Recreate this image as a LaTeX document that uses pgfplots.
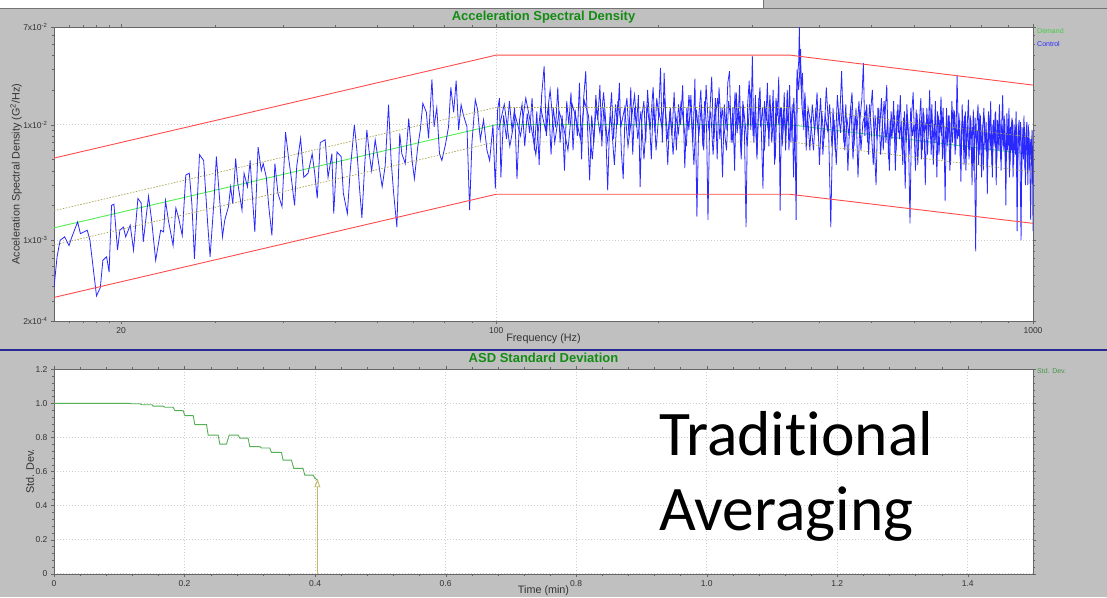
\documentclass[border=0pt]{standalone}
\usepackage{fontspec}
\setmainfont{Liberation Sans}
\newfontfamily\calib[Ligatures=NoCommon]{Carlito}
\usepackage{pgfplots}
\pgfplotsset{compat=1.18}
\usetikzlibrary{arrows.meta}
\definecolor{bg}{RGB}{192,192,192}
\definecolor{redlim}{RGB}{255,75,75}
\definecolor{ctrl}{RGB}{40,40,255}
\definecolor{dem}{RGB}{80,240,80}
\definecolor{alarm}{RGB}{170,165,80}
\definecolor{ttl}{RGB}{20,140,20}
\definecolor{sdgreen}{RGB}{85,175,85}
\definecolor{arrowc}{RGB}{195,185,100}
\definecolor{sep}{RGB}{40,40,150}
\definecolor{gridc}{RGB}{205,205,205}
\begin{document}
\begin{tikzpicture}
\path[use as bounding box] (0,0) rectangle (1107pt,-597pt);
\fill[bg] (0,0) rectangle (1107pt,-597pt);
\fill[white] (0,0) rectangle (763pt,-7.5pt);
\draw[black!55, line width=1pt] (0,-8pt) -- (1107pt,-8pt);
\draw[black!55, line width=1pt] (763pt,0) -- (763pt,-8pt);
\draw[sep, line width=1.8pt] (0,-350pt) -- (1107pt,-350pt);

\begin{axis}[
 name=top,
 at={(54pt,-321pt)}, anchor=south west,
 width=979pt, height=294pt, scale only axis,
 xmode=log, ymode=log,
 xmin=15, xmax=1000, ymin=2e-4, ymax=7e-2,
 axis background/.style={fill=white},
 axis line style={black!60},
 xtick={100,1000}, xticklabels={100,1000},
 extra x ticks={20}, extra x tick labels={20}, extra x tick style={grid=none},
 minor xtick={16,17,18,19,30,40,50,60,70,80,90,200,300,400,500,600,700,800,900},
 ytick={1e-3,1e-2}, yticklabels={1x10\textsuperscript{-3},1x10\textsuperscript{-2}},
 extra y ticks={2e-4,7e-2}, extra y tick labels={2x10\textsuperscript{-4},7x10\textsuperscript{-2}}, extra y tick style={grid=none},
 minor ytick={3e-4,4e-4,5e-4,6e-4,7e-4,8e-4,9e-4,2e-3,3e-3,4e-3,5e-3,6e-3,7e-3,8e-3,9e-3,2e-2,3e-2,4e-2,5e-2,6e-2},
 grid=major, major grid style={gridc, dash pattern=on 1pt off 2pt, line width=0.6pt},
 tick align=outside, major tick length=3pt, minor tick length=2pt,
 tick style={black!60},
 ticklabel style={font=\fontsize{8.5}{9}\selectfont, text=black!80},
 xlabel={Frequency (Hz)}, ylabel={Acceleration Spectral Density (G\textsuperscript{2}/Hz)},
 label style={font=\fontsize{10.8}{12}\selectfont, text=black!80},
 xlabel style={at={(rel axis cs:0.5,-0.0612)}, anchor=center},
 ylabel style={at={(rel axis cs:-0.0388,0.5)}, anchor=center},
 title={Acceleration Spectral Density},
 every axis title/.style={at={(0.5,1.034)}, anchor=center, font=\bfseries\fontsize{13}{14}\selectfont, text=ttl},
 clip=true,
]
\addplot[dem, line width=0.9pt] coordinates {(15,1.28e-3)(100,0.01)(352,0.01)(1000,0.0055)};
\addplot[ctrl, line width=0.8pt] coordinates {
(15.0,3.9e-4)(15.2,7.2e-4)(15.4,1.0e-3)(15.7,1.07e-3)(16.0,9.0e-4)(16.2,1.07e-3)(16.6,1.44e-3)(16.8,1.14e-3)(17.3,1.22e-3)(17.5,1.0e-3)
(18.0,3.3e-4)(18.3,3.9e-4)(18.5,6.7e-4)(18.8,7.2e-4)(19.0,5.3e-4)(19.2,2.0e-3)(19.4,2.05e-3)(19.7,8.2e-4)(19.9,1.22e-3)(20.2,1.3e-3)
(20.4,1.07e-3)(20.8,1.35e-3)(21.1,8.2e-4)(21.5,2.3e-3)(21.8,2.1e-3)(22.0,9.7e-4)(22.5,2.4e-3)(22.8,1.49e-3)(23.2,6.7e-4)(23.7,1.22e-3)
(24.0,1.18e-3)(24.2,2.2e-3)(24.5,1.49e-3)(25.0,9.0e-4)(25.3,1.9e-3)(25.6,1.56e-3)(26.0,1.1e-3)(26.4,3.66e-3)(26.8,3.8e-3)(27.1,2.06e-3)
(27.4,6.9e-4)(28.0,5.5e-3)(28.5,4.9e-3)(29.0,1.39e-3)(29.3,7.2e-4)(29.8,2.2e-3)(30.1,5.3e-3)(30.4,2.9e-3)(30.9,1.07e-3)(31.2,1.49e-3)
(31.7,1.95e-3)(32.0,2.9e-3)(32.3,2.06e-3)(32.7,5.1e-3)(33.0,3.1e-3)(33.6,1.82e-3)(33.9,3.8e-3)(34.4,2.9e-3)(34.8,4.9e-3)(35.1,2.55e-3)
(35.5,1.18e-3)(36.0,6.4e-3)(36.5,4.0e-3)(36.8,4.6e-3)(37.3,3.5e-3)(37.7,1.95e-3)(38.2,1.1e-3)(38.7,4.6e-3)(39.2,2.55e-3)(39.9,1.95e-3)
(40.5,8.6e-3)(41.0,5.3e-3)(41.5,3.5e-3)(42.1,2.0e-3)(42.5,4.4e-3)(43.2,7.6e-3)(43.8,3.5e-3)(44.6,3.8e-3)(45.4,5.6e-3)(45.9,3.8e-3)
(46.4,2.3e-3)(47.0,7.0e-3)(48.0,7.4e-3)(48.6,3.5e-3)(49.4,5.6e-3)(49.8,1.7e-3)(50.5,5.8e-3)(51.4,5.3e-3)(51.9,2.55e-3)(52.8,1.7e-3)
(53.4,3.8e-3)(54.4,9.96e-3)(55.0,6.0e-3)(55.6,2.9e-3)(56.2,1.56e-3)(56.8,4.0e-3)(57.4,9.0e-3)(58.1,5.3e-3)(58.6,4.0e-3)(59.5,7.4e-3)
(60.4,4.6e-3)(61.3,2.9e-3)(62.1,4.4e-3)(63.0,1.49e-2)(63.7,4.9e-3)(64.4,2.55e-3)(65.3,1.3e-3)(66.1,8.4e-3)(66.7,5.6e-3)(67.7,4.6e-3)
(68.7,1.13e-2)(69.7,4.9e-3)(70.4,3.4e-3)(71.4,6.4e-3)(72.2,9.0e-3)(73.0,1.53e-2)(74.1,1.28e-2)(74.8,7.6e-3)(75.9,2.46e-2)(76.6,9.6e-3)
(77.5,1.4e-2)(78.4,5.6e-3)(79.2,4.9e-3)(80.4,6.7e-3)(81.5,9.6e-3)(82.3,2.1e-2)(83.3,1.28e-2)(84.2,2.4e-2)(85.1,9.0e-3)(86.0,1.49e-2)
(86.9,1.2e-2)(88.2,9.6e-3)(89.2,1.82e-3)(90.1,7.0e-3)(91.4,1.65e-2)(92.3,1.35e-2)(93.4,7.4e-3)(94.7,1.1e-2)(96.1,6.0e-3)(97.2,4.9e-3)
(98.6,9.96e-3)(99.6,2.8e-3)(100.6,1.35e-2)(101.4,1.7e-2)
(102.0,0.0035)(103.2,0.0120)(104.5,0.0075)(105.8,0.0160)(107.0,0.0090)(108.2,0.0140)(109.3,0.0034)(110.5,0.0110)(111.7,0.0150)(113.0,0.0065)
(114.2,0.0125)(115.4,0.0085)(116.6,0.0170)(117.8,0.0060)(119.0,0.0130)(120.2,0.0045)(121.5,0.0180)(122.8,0.0320)(124.0,0.0080)(125.2,0.0150)
(126.5,0.0055)(127.7,0.0140)(129.0,0.0095)(130.2,0.0210)(131.5,0.0070)(132.7,0.0120)(134.0,0.0040)(135.3,0.0160)(136.5,0.0100)(137.8,0.0190)
(139.0,0.0060)(140.3,0.0135)(141.6,0.0080)(142.9,0.0230)(144.2,0.0050)(145.5,0.0170)(146.8,0.0290)(148.0,0.0090)(149.3,0.0033)(150.6,0.0120)
(152.0,0.0070)(153.3,0.0180)(154.6,0.0110)(156.0,0.0220)(157.3,0.0065)(158.6,0.0140)(160.0,0.0085)(161.3,0.0027)(162.7,0.0110)(164.0,0.0190)
(165.4,0.0075)(166.8,0.0150)(168.2,0.0100)(169.6,0.0230)(171.0,0.0060)(172.4,0.0034)(173.8,0.0130)(175.2,0.0170)(176.7,0.0080)(178.1,0.0210)
(179.6,0.0055)(181.0,0.0140)(182.5,0.0095)(184.0,0.0180)(185.4,0.0029)(186.9,0.0120)(188.4,0.0160)(189.9,0.0070)(191.4,0.0200)(193.0,0.0110)
(194.5,0.0050)(196.0,0.0150)(197.6,0.0085)(199.1,0.0170)(200.7,0.0120)(202.3,0.0310)(203.9,0.0070)(205.5,0.0280)(207.0,0.0100)(208.7,0.0045)
(210.5,0.0130)(212.5,0.0080)(214.5,0.0190)(216.5,0.0060)(218.5,0.0150)(220.5,0.0100)(222.5,0.0220)(224.5,0.0042)(226.5,0.0140)(228.5,0.0090)
(230.5,0.0180)(232.5,0.0070)(234.5,0.0250)(236.5,0.0016)(238.5,0.0120)(240.5,0.0200)(242.5,0.0065)(244.5,0.0160)(246.5,0.0095)(248.0,0.0015)
(250.0,0.0130)(252.0,0.0260)(254.0,0.0075)(256.0,0.0170)(258.0,0.0050)(260.0,0.0210)(262.0,0.0110)(264.0,0.0035)(266.0,0.0150)(268.0,0.0090)
(270.0,0.0230)(272.0,0.0290)(274.0,0.0070)(276.0,0.0140)(278.0,0.0040)(280.0,0.0190)(282.0,0.0100)(284.0,0.0220)(286.0,0.0060)(288.0,0.0160)
(290.0,0.0085)(292.0,0.0013)(294.0,0.0150)(296.0,0.0240)(298.0,0.0090)(300.0,0.0390)(302.0,0.0070)(304.0,0.0180)(306.0,0.0050)(308.0,0.0140)
(310.0,0.0210)(312.0,0.0080)(314.0,0.0028)(316.0,0.0160)(318.0,0.0110)(320.0,0.0230)(322.0,0.0065)(324.0,0.0150)(326.0,0.0095)(328.0,0.0200)
(330.0,0.0045)(332.0,0.0170)(334.0,0.0120)(336.0,0.0260)(338.0,0.0018)(340.0,0.0140)(342.0,0.0085)(344.0,0.0190)(346.0,0.0060)(348.0,0.0130)
(350.0,0.0100)(352.0,0.0220)(354.0,0.0070)(356.0,0.0150)(358.0,0.0035)(360.0,0.0120)(362.0,0.0015)(364.0,0.0250)(366.0,0.0350)(367.0,0.0700)
(368.0,0.0300)(369.0,0.0450)(370.0,0.0200)(372.0,0.0280)(374.0,0.0090)(376.0,0.0170)(378.0,0.0060)(380.0,0.0130)
(384,0.0060)(388,0.0150)(392,0.0085)(396,0.0190)(400,0.0045)(404,0.0130)(408,0.0075)(412,0.0210)(416,0.0095)(420,0.0013)
(424,0.0140)(428,0.0060)(432,0.0180)(436,0.0100)(440,0.0290)(444,0.0070)(448,0.0150)(452,0.0040)(456,0.0120)(460,0.0190)
(464,0.0065)(468,0.0140)(472,0.0035)(476,0.0110)(480,0.0170)(483,0.0340)(486,0.0080)(490,0.0150)(494,0.0055)(498,0.0125)
(502,0.0200)(506,0.0070)(510,0.0030)(514,0.0140)(518,0.0090)(522,0.0170)(526,0.0060)(530,0.0120)(534,0.0220)(538,0.0050)
(542,0.0110)(546,0.0075)(550,0.0160)(554,0.0040)(558,0.0130)(562,0.0085)(566,0.0180)(570,0.0060)(574,0.0115)(578,0.0028)
(582,0.0150)(586,0.0080)(590,0.0014)(594,0.0120)(598,0.0190)(602,0.0065)(606,0.0135)(610,0.0045)(614,0.0100)(618,0.0170)
(622,0.0060)(626,0.0125)(630,0.0030)(634,0.0140)(638,0.0080)(642,0.0200)(646,0.0055)(650,0.0110)(654,0.0070)(658,0.0160)
(662,0.0035)(666,0.0120)(670,0.0085)(674,0.0175)(678,0.0050)(682,0.0105)(686,0.0022)(690,0.0140)(694,0.0075)(698,0.0120)
(702,0.0045)(706,0.0160)(710,0.0090)(714,0.0130)(718,0.0060)(722,0.0270)(726,0.0080)(730,0.0110)(734,0.0032)(738,0.0150)
(742,0.0070)(746,0.0120)(750,0.0040)(754,0.0095)(758,0.0165)(762,0.0060)(766,0.0110)(770,0.0030)(774,0.0135)(778,0.0070)
(782,0.0008)(786,0.0100)(790,0.0150)(794,0.0055)(798,0.0120)(802,0.0035)(806,0.0090)(810,0.0140)(814,0.0060)(818,0.0105)
(822,0.0025)(826,0.0130)(830,0.0075)(834,0.0160)(838,0.0045)(842,0.0100)(846,0.0065)(850,0.0125)(854,0.0030)(858,0.0110)
(862,0.0080)(866,0.0150)(870,0.0050)(874,0.0095)(878,0.0180)(882,0.0060)(886,0.0110)(890,0.0020)(894,0.0125)(898,0.0070)
(902,0.0140)(906,0.0045)(910,0.0090)(914,0.0115)(918,0.0035)(922,0.0100)(926,0.0065)(930,0.0130)(934,0.0012)(938,0.0085)
(942,0.0110)(946,0.0050)(950,0.0010)(954,0.0095)(958,0.0060)(962,0.0120)(966,0.0040)(970,0.0080)(974,0.0105)(978,0.0030)
(982,0.0090)(986,0.0055)(990,0.0015)(994,0.0075)(998,0.0040)(1000,0.0012)
};
\addplot[ctrl, line width=0.8pt] coordinates {
(101,0.0090)(103.5,0.0150)(106,0.0065)(108.5,0.0120)(111,0.0080)(113.5,0.0170)(116,0.0100)(118.5,0.0055)(121,0.0140)(123.5,0.0090)
(126,0.0200)(128.5,0.0070)(131,0.0130)(133.5,0.0095)(136,0.0060)(138.5,0.0150)(141,0.0110)(143.5,0.0075)(146,0.0160)(148.5,0.0120)
(151,0.0050)(153.5,0.0140)(156,0.0085)(158.5,0.0190)(161,0.0070)(163.5,0.0120)(166,0.0045)(168.5,0.0160)(171,0.0100)(173.5,0.0140)
(176,0.0065)(178.5,0.0110)(181,0.0180)(183.5,0.0075)(186,0.0130)(188.5,0.0050)(191,0.0150)(193.5,0.0090)(196,0.0210)(198.5,0.0060)
(201,0.0130)(203.5,0.0095)(206,0.0170)(208.5,0.0075)(211,0.0140)(213.5,0.0055)(216,0.0120)(218.5,0.0085)(221,0.0160)(223.5,0.0100)
(226,0.0065)(228.5,0.0180)(231,0.0110)(233.5,0.0045)(236,0.0135)(238.5,0.0080)(241,0.0150)(243.5,0.0060)(246,0.0220)(248.5,0.0095)
(251,0.0130)(253.5,0.0055)(256,0.0120)(258.5,0.0170)(261,0.0075)(263.5,0.0140)(266,0.0090)(268.5,0.0060)(271,0.0160)(273.5,0.0110)
(276,0.0070)(278.5,0.0190)(281,0.0085)(283.5,0.0130)(286,0.0050)(288.5,0.0150)(291,0.0100)(293.5,0.0065)(296,0.0140)(298.5,0.0200)
(301,0.0080)(303.5,0.0120)(306,0.0055)(308.5,0.0170)(311,0.0095)(313.5,0.0140)(316,0.0060)(318.5,0.0130)(321,0.0090)(323.5,0.0180)
(326,0.0070)(328.5,0.0120)(331,0.0050)(333.5,0.0160)(336,0.0100)(338.5,0.0140)(341,0.0065)(343.5,0.0120)(346,0.0085)(348.5,0.0200)
(351,0.0060)(353.5,0.0130)(356,0.0090)(358.5,0.0170)(361,0.0070)(363.5,0.0300)(366,0.0200)(368.5,0.0350)(371,0.0150)(373.5,0.0100)
(376,0.0190)(378.5,0.0075)(381,0.0140)
(386,0.0100)(390,0.0060)(394,0.0140)(398,0.0080)(402,0.0170)(406,0.0055)(410,0.0120)(414,0.0090)(418,0.0150)(422,0.0065)
(426,0.0110)(430,0.0045)(434,0.0130)(438,0.0085)(442,0.0160)(446,0.0060)(450,0.0115)(454,0.0080)(458,0.0145)(462,0.0050)
(466,0.0120)(470,0.0090)(474,0.0160)(478,0.0060)(482,0.0105)(488,0.0130)(492,0.0070)(496,0.0150)(500,0.0085)(504,0.0045)
(508,0.0120)(512,0.0075)(516,0.0140)(520,0.0055)(524,0.0100)(528,0.0160)(532,0.0070)(536,0.0110)(540,0.0040)(544,0.0130)
(548,0.0085)(552,0.0120)(556,0.0060)(560,0.0150)(564,0.0075)(568,0.0105)(572,0.0045)(576,0.0130)(580,0.0070)(584,0.0115)
(588,0.0055)(592,0.0140)(596,0.0080)(600,0.0100)(604,0.0040)(608,0.0125)(612,0.0070)(616,0.0110)(620,0.0050)(624,0.0140)
(628,0.0085)(632,0.0105)(636,0.0055)(640,0.0120)(644,0.0075)(648,0.0150)(652,0.0045)(656,0.0100)(660,0.0070)(664,0.0130)
(668,0.0055)(672,0.0110)(676,0.0080)(680,0.0140)(684,0.0050)(688,0.0095)(692,0.0065)(696,0.0120)(700,0.0040)(704,0.0105)
(708,0.0070)(712,0.0135)(716,0.0055)(720,0.0100)(724,0.0075)(728,0.0125)(732,0.0050)(736,0.0090)(740,0.0110)(744,0.0045)
(748,0.0130)(752,0.0065)(756,0.0100)(760,0.0050)(764,0.0120)(768,0.0075)(772,0.0095)(776,0.0040)(780,0.0115)(784,0.0065)
(788,0.0090)(792,0.0045)(796,0.0125)(800,0.0060)(804,0.0100)(808,0.0040)(812,0.0115)(816,0.0070)(820,0.0090)(824,0.0050)
(828,0.0120)(832,0.0060)(836,0.0095)(840,0.0035)(844,0.0110)(848,0.0070)(852,0.0130)(856,0.0050)(860,0.0090)(864,0.0060)
(868,0.0110)(872,0.0040)(876,0.0100)(880,0.0065)(884,0.0120)(888,0.0045)(892,0.0085)(896,0.0060)(900,0.0105)(904,0.0035)
(908,0.0095)(912,0.0060)(916,0.0110)(920,0.0045)(924,0.0080)(928,0.0055)(932,0.0100)(936,0.0040)(940,0.0090)(944,0.0065)
(948,0.0105)(952,0.0035)(956,0.0080)(960,0.0050)(964,0.0095)(968,0.0030)(972,0.0085)(976,0.0055)(980,0.0100)(984,0.0040)
(988,0.0075)(992,0.0050)(996,0.0090)(1000,0.0030)
};
\addplot[redlim, line width=0.9pt] coordinates {(15,5.14e-3)(100,0.04)(352,0.04)(1000,0.022)};
\addplot[redlim, line width=0.9pt] coordinates {(15,3.2e-4)(100,0.0025)(352,0.0025)(1000,0.0014)};
\addplot[alarm, line width=0.7pt, dash pattern=on 1.5pt off 1.5pt] coordinates {(15,1.8e-3)(100,0.0141)(352,0.0141)(1000,0.00776)};
\addplot[alarm, line width=0.7pt, dash pattern=on 1.5pt off 1.5pt] coordinates {(15,9.1e-4)(100,0.0071)(352,0.0071)(1000,0.0039)};
\end{axis}
\node[anchor=west, text=dem!85!black, font=\fontsize{7}{8}\selectfont, inner sep=0pt] at (1037pt,-30.7pt) {Demand};
\node[anchor=west, text=ctrl, font=\fontsize{7}{8}\selectfont, inner sep=0pt] at (1037pt,-44.3pt) {Control};

\begin{axis}[
 name=bot,
 at={(54pt,-573.7pt)}, anchor=south west,
 width=979pt, height=204.4pt, scale only axis,
 xmin=0, xmax=1.5, ymin=0, ymax=1.2,
 axis background/.style={fill=white},
 axis line style={black!60},
 xtick={0,0.2,0.4,0.6,0.8,1.0,1.2,1.4}, xticklabels={0,0.2,0.4,0.6,0.8,1.0,1.2,1.4},
 ytick={0,0.2,0.4,0.6,0.8,1.0,1.2}, yticklabels={0,0.2,0.4,0.6,0.8,1.0,1.2},
 minor x tick num=4, minor y tick num=4,
 grid=major, major grid style={gridc, dash pattern=on 1pt off 2pt, line width=0.6pt},
 tick align=outside, major tick length=3pt, minor tick length=2pt,
 tick style={black!60},
 ticklabel style={font=\fontsize{8.5}{9}\selectfont, text=black!80},
 xlabel={Time (min)}, ylabel={Std. Dev.},
 label style={font=\fontsize{10.8}{12}\selectfont, text=black!80},
 xlabel style={at={(rel axis cs:0.5,-0.0846)}, anchor=center},
 ylabel style={at={(rel axis cs:-0.0245,0.5)}, anchor=center},
 title={ASD Standard Deviation},
 every axis title/.style={at={(0.5,1.055)}, anchor=center, font=\bfseries\fontsize{13}{14}\selectfont, text=ttl},
 clip=false,
]
\addplot[sdgreen, line width=0.9pt] coordinates {
(0,1.0)(0.116,1.0)(0.118,0.998)(0.132,0.998)(0.134,0.992)(0.150,0.992)(0.152,0.984)(0.167,0.984)(0.170,0.977)(0.1826,0.977)
(0.1852,0.957)(0.1979,0.957)(0.2005,0.928)(0.2133,0.928)(0.2158,0.875)(0.2337,0.875)(0.2362,0.814)(0.2515,0.814)(0.2541,0.761)(0.2643,0.761)
(0.2684,0.814)(0.2821,0.814)(0.2847,0.796)(0.2974,0.796)(0.300,0.746)(0.3153,0.746)(0.3178,0.738)(0.3306,0.738)(0.3331,0.712)(0.3485,0.712)
(0.351,0.667)(0.3638,0.667)(0.3674,0.618)(0.3816,0.618)(0.3842,0.579)(0.3969,0.579)(0.3995,0.562)(0.4046,0.546)
};
\addplot[arrowc, line width=0.9pt, -{Triangle[open, length=8pt, width=6pt]}] coordinates {(0.4036,0)(0.4036,0.555)};
\end{axis}
\node[anchor=west, text=sdgreen!85!black, font=\fontsize{7}{8}\selectfont, inner sep=0pt] at (1037pt,-371pt) {Std. Dev.};

\node[anchor=base west, font=\calib\fontsize{63.5}{63}\selectfont, inner sep=0pt] at (659pt,-455pt) {Traditional};
\node[anchor=base west, font=\calib\fontsize{63.5}{63}\selectfont, inner sep=0pt] at (659pt,-530pt) {Averaging};
\end{tikzpicture}
\end{document}
